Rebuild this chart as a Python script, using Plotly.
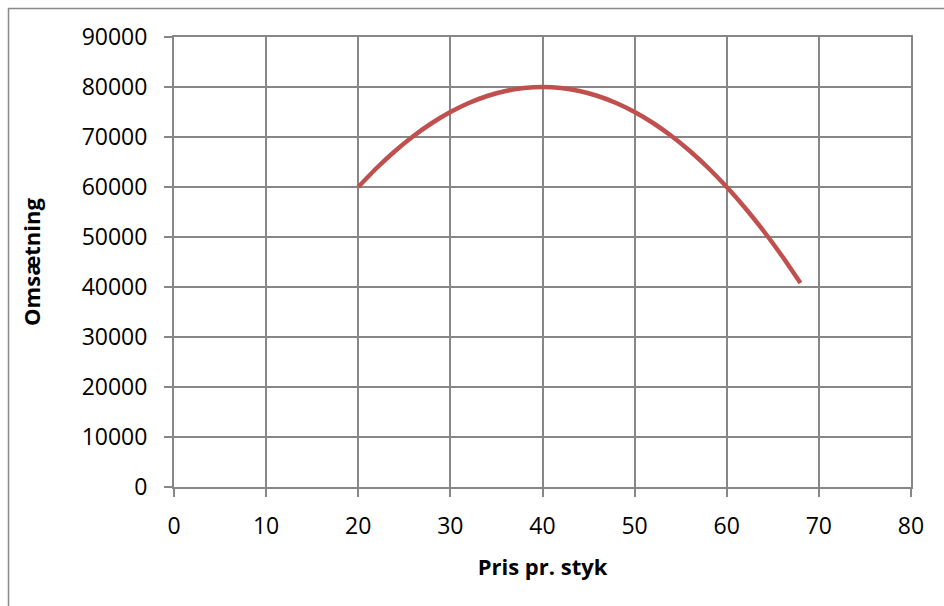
import plotly.graph_objects as go

pris = [20, 22, 24, 26, 28, 30, 32, 34, 36, 38, 40, 42, 44, 46, 48, 50,
        52, 54, 56, 58, 60, 62, 64, 66, 68]
omsaetning = [60000, 63800, 67200, 70200, 72800, 75000, 76800, 78200, 79200, 79800,
              80000, 79800, 79200, 78200, 76800, 75000, 72800, 70200, 67200, 63800,
              60000, 55800, 51200, 46200, 40800]

x_title = "Pris pr. styk"
y_title = "Omsætning"

GRID = "#878787"
FONT = "Open Sans"

fig = go.Figure()
fig.add_trace(go.Scatter(
    x=pris, y=omsaetning, mode="lines",
    line=dict(color="#C0504D", width=4.5, shape="spline", smoothing=0.6),
    showlegend=False, hoverinfo="skip",
))

fig.update_layout(
    width=944, height=606,
    margin=dict(l=174, r=33, t=37, b=119),
    paper_bgcolor="white", plot_bgcolor="white",
    font=dict(family=FONT, size=23, color="black"),
    xaxis=dict(
        range=[0, 80], dtick=10, tick0=0,
        showgrid=True, gridcolor=GRID, gridwidth=2,
        showline=True, mirror=True, linecolor=GRID, linewidth=2,
        zeroline=True, zerolinecolor=GRID, zerolinewidth=2,
        ticks="outside", ticklen=8, tickwidth=2, tickcolor=GRID,
        ticklabelstandoff=9,
        title=dict(text=x_title, font=dict(family=FONT, size=22, color="black", weight="bold"), standoff=20),
    ),
    yaxis=dict(
        range=[0, 90000], dtick=10000, tick0=0,
        showgrid=True, gridcolor=GRID, gridwidth=2,
        showline=True, mirror=True, linecolor=GRID, linewidth=2,
        zeroline=True, zerolinecolor=GRID, zerolinewidth=2,
        ticks="outside", ticklen=8, tickwidth=2, tickcolor=GRID,
        ticklabelstandoff=12,
        tickformat="d",
        title=dict(text=y_title, font=dict(family=FONT, size=22, color="black", weight="bold"), standoff=35),
    ),
)

# outer chart frame (Excel chart area border)
fig.add_shape(type="rect", xref="paper", yref="paper",
              x0=(8.5 - 174) / 737, x1=1.2, y0=-0.4, y1=(487 - 8.5) / 450,
              line=dict(color="#898989", width=1.5), fillcolor="rgba(0,0,0,0)", layer="below")

fig.write_html("out.html")
